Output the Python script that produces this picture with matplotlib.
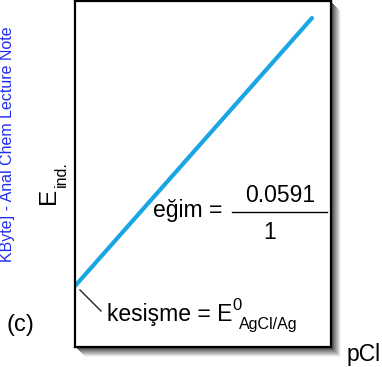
import matplotlib
matplotlib.use('Agg')
import matplotlib.pyplot as plt
from matplotlib.patches import Rectangle
from matplotlib.lines import Line2D

# ---- data ----
pcl = [0.0, 4.0]
E0 = 0.222
slope = 0.0591
E = [E0 + slope * p for p in pcl]
slope_num = "0.0591"
slope_den = "1"
watermark = "KByte] - Anal Chem Lecture Note"

W, H = 382, 367
FONT = 'Liberation Sans'
fig = plt.figure(figsize=(W / 100, H / 100), dpi=100)
fig.patch.set_facecolor('white')


def fx(x):
    return x / W


def fy(y):
    return 1 - y / H


L, T, R, B = 75, 1, 331, 347

# shadow
for k in range(10, 0, -1):
    g = 0.25 + 0.72 * (k - 1) / 9
    fig.add_artist(Rectangle((fx(L + k), fy(B + k)), (R - L) / W, (B - T) / H,
                             transform=fig.transFigure, facecolor=(g, g, g),
                             edgecolor='none', zorder=-2))

ax = fig.add_axes([fx(L), fy(B), (R - L) / W, (B - T) / H])
ax.set_xlim(0, 4.321)
ax.set_ylim(0.1682, 0.4734)
ax.plot(pcl, E, color='#1aa6e3', lw=3, solid_capstyle='round')
ax.set_xticks([])
ax.set_yticks([])
for s in ax.spines.values():
    s.set_linewidth(1.6)
    s.set_color('black')
ax.set_facecolor('white')

# leader line
fig.add_artist(Line2D([fx(80), fx(101)], [fy(290), fy(311)], transform=fig.transFigure,
                      color='#222222', lw=1, zorder=5))


def t(x, y, s, size, **kw):
    kw.setdefault('ha', 'left')
    kw.setdefault('va', 'baseline')
    return fig.text(fx(x), fy(y), s, fontsize=size, family=FONT, zorder=6, **kw)


MAIN = 16.5
t(153, 217, "eğim =", MAIN)
t(280, 202, slope_num, MAIN, ha='center')
fig.add_artist(Line2D([fx(232), fx(327)], [fy(212), fy(212)], transform=fig.transFigure,
                      color='black', lw=1, zorder=6))
t(270, 239, slope_den, MAIN, ha='center')

k_txt = t(107, 321, "kesişme = E", MAIN)
fig.canvas.draw()
bb = k_txt.get_window_extent()
xe = bb.x1  # pixels from left
t(xe, 310, "0", 12)
t(xe + 7, 329, "AgCl/Ag", 11.5)

t(347, 361, "pCl", MAIN)
t(7, 331, "(c)", 17)

t(55, 204, "E", 17.5, rotation=90, rotation_mode='anchor')
t(66, 187, "ind.", 11.5, rotation=90, rotation_mode='anchor')

t(12, 262, watermark, 11.5, rotation=90, rotation_mode='anchor', color='#1f2cf0')

fig.savefig('out.png', dpi=100)
